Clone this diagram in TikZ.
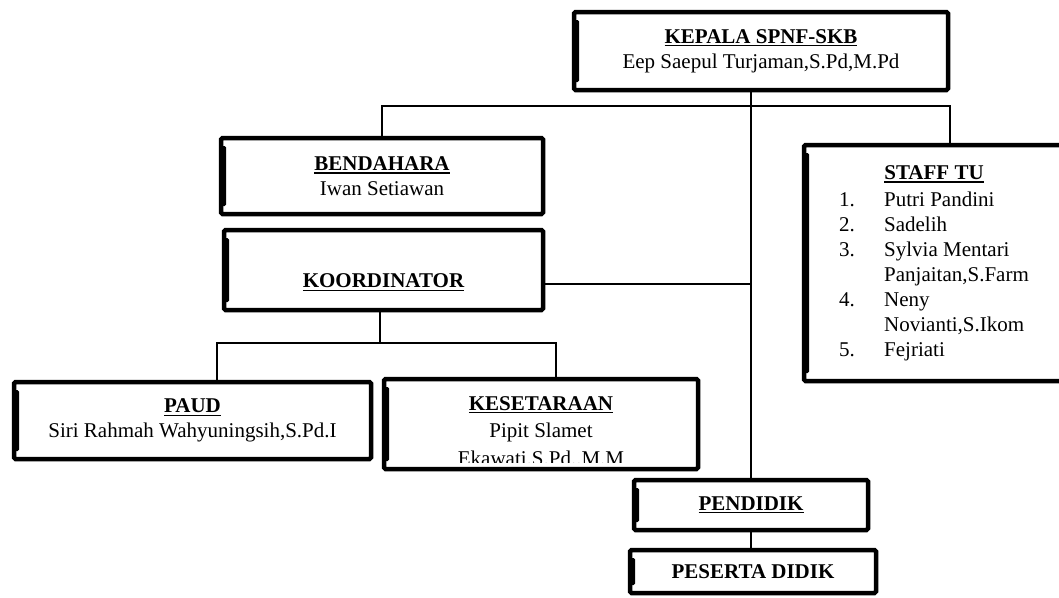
\documentclass[tikz,border=0pt]{standalone}
\usepackage{fontspec}
\setmainfont{Liberation Serif}
\newcommand\uln[1]{\leavevmode\setbox0\hbox{#1}\rlap{\rule[-3.2pt]{\wd0}{1.3pt}}\box0}
\tikzset{
  orgbox/.style={draw=black, line width=4.5pt, rounded corners=1.5pt, fill=white,
    inner sep=0pt, align=center, font=\fontsize{21}{25}\selectfont,
    path picture={\fill[black] ([yshift=-8pt]path picture bounding box.north west)
      rectangle ([xshift=5pt,yshift=8pt]path picture bounding box.south west);}},
  link/.style={draw=black, line width=1.8pt},
  plaintext/.style={inner sep=0pt, align=center, font=\fontsize{21}{25}\selectfont},
}
\begin{document}
\begin{tikzpicture}[x=1pt,y=-1pt]
\useasboundingbox (0,0) rectangle (1059,597);
\fill[white] (0,0) rectangle (1059,597);

\node[orgbox, minimum width=374pt, minimum height=78pt] (kepala) at (761,51)
  {\textbf{\uln{KEPALA SPNF-SKB}}\\Eep Saepul Turjaman,S.Pd,M.Pd};
\node[orgbox, minimum width=322pt, minimum height=76pt] (bendahara) at (382,176)
  {\textbf{\uln{BENDAHARA}}\\Iwan Setiawan};
\node[orgbox, minimum width=319pt, minimum height=80pt] (koord) at (383.5,270)
  {\mbox{}\\[14pt]\textbf{\uln{KOORDINATOR}}};
\node[orgbox, minimum width=357pt, minimum height=77pt] (paud) at (192.5,420.5)
  {\textbf{\uln{PAUD}}\\Siri Rahmah Wahyuningsih,S.Pd.I};
\node[orgbox, minimum width=314pt, minimum height=90pt] (kes) at (541,424) {};
\begin{scope}
  \clip (384.5,380) rectangle (697.5,462);
  \node[plaintext, anchor=north] (kestext) at (541,396)
    {\textbf{\uln{KESETARAAN}}\\[2pt]Pipit Slamet\\[3pt]Ekawati.S.Pd..M.M};
\end{scope}
\node[orgbox, minimum width=260pt, minimum height=236pt] (staff) at (934,263)
  {\begin{tabular}{@{}l@{}l@{}}
    \multicolumn{2}{c}{\textbf{\uln{STAFF TU}}}\\[2pt]
    \makebox[45pt][l]{1.}&Putri Pandini\\
    \makebox[45pt][l]{2.}&Sadelih\\
    \makebox[45pt][l]{3.}&Sylvia Mentari\\
    &Panjaitan,S.Farm\\
    \makebox[45pt][l]{4.}&Neny\\
    &Novianti,S.Ikom\\
    \makebox[45pt][l]{5.}&Fejriati
  \end{tabular}};
\node[orgbox, minimum width=234pt, minimum height=50pt] (pendidik) at (751,505)
  {\textbf{\uln{PENDIDIK}}};
\node[orgbox, minimum width=246pt, minimum height=43pt] (peserta) at (753,571.5)
  {\textbf{PESERTA DIDIK}};

\coordinate (hR) at (950,106);
\coordinate (kj) at (751,284);
\coordinate (kd) at (380,343);
\coordinate (pl) at (217,343);
\coordinate (pr) at (556,343);

\draw[link] (kepala.south -| pendidik.north) -- (pendidik.north);
\draw[link] (bendahara.north) |- (hR) -- (hR |- staff.north);
\draw[link] (koord.east |- kj) -- (kj);
\draw[link] (koord.south -| kd) -- (kd);
\draw[link] (paud.north -| pl) |- (pr) -- (pr |- kes.north);
\draw[link] (pendidik.south) -- (pendidik.south |- peserta.north);
\end{tikzpicture}
\end{document}
